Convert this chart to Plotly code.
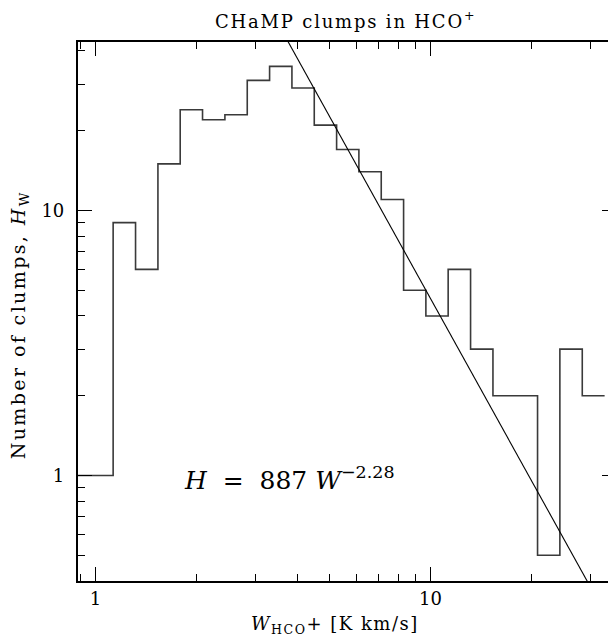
import plotly.graph_objects as go

# ---- data ----
bin_edges = [0.831, 0.969, 1.129, 1.317, 1.536, 1.790, 2.087, 2.434, 2.838, 3.309,
             3.858, 4.498, 5.245, 6.113, 7.128, 8.311, 9.687, 11.29, 13.17, 15.36,
             17.90, 20.87, 24.33, 28.38, 33.09]
counts = [1, 1, 9, 6, 15, 24, 22, 23, 31, 35, 29, 21, 17, 14, 11, 5, 4, 6, 3, 2, 2, 0.5, 3, 2]

fit_amp = 887
fit_index = -2.28
fit_w = [3.0, 40.0]
fit_h = [fit_amp * w ** fit_index for w in fit_w]

x_major = [1, 10]
x_major_text = ["1", "10"]
x_minor = [0.9, 2, 3, 4, 5, 6, 7, 8, 9, 20, 30]
y_major = [1, 10]
y_major_text = ["1", "10"]
y_minor = [0.5, 0.6, 0.7, 0.8, 0.9, 2, 3, 4, 5, 6, 7, 8, 9, 20, 30, 40]

FONT = "DejaVu Serif"

fig = go.Figure()
fig.add_trace(go.Scatter(
    x=bin_edges, y=counts + [counts[-1]], mode="lines",
    line=dict(shape="hv", color="#3a3a3a", width=1.6), showlegend=False,
    hoverinfo="skip"))
fig.add_trace(go.Scatter(
    x=fit_w, y=fit_h, mode="lines",
    line=dict(color="black", width=1.1), showlegend=False, hoverinfo="skip"))
# invisible trace for mirror axes
fig.add_trace(go.Scatter(x=[1], y=[1], xaxis="x2", yaxis="y2", mode="markers",
                         marker=dict(opacity=0), showlegend=False, hoverinfo="skip"))

xr = [-0.0522, 1.5537]
yr = [-0.398, 1.636]

common_x = dict(type="log", range=xr, tickmode="array", tickvals=x_major,
                ticks="inside", ticklen=14, tickwidth=1.3, tickcolor="black",
                showgrid=False, zeroline=False,
                minor=dict(tickmode="array", tickvals=x_minor, ticks="inside",
                           ticklen=7, tickwidth=1.1, tickcolor="black", showgrid=False))
common_y = dict(type="log", range=yr, tickmode="array", tickvals=y_major,
                ticks="inside", ticklen=14, tickwidth=1.3, tickcolor="black",
                showgrid=False, zeroline=False,
                minor=dict(tickmode="array", tickvals=y_minor, ticks="inside",
                           ticklen=7, tickwidth=1.1, tickcolor="black", showgrid=False))

fig.update_layout(
    width=608, height=633,
    margin=dict(l=70, r=0, t=34, b=60, autoexpand=False),
    paper_bgcolor="white", plot_bgcolor="white",
    font=dict(family=FONT, color="black", size=18),
    xaxis=dict(**common_x, ticktext=x_major_text, showline=True, linewidth=2.2,
               linecolor="black", tickfont=dict(family=FONT, size=18)),
    xaxis2=dict(**common_x, overlaying="x", side="top", anchor="y",
                showline=True, linewidth=1.6, linecolor="black",
                showticklabels=False),
    yaxis=dict(**common_y, ticktext=y_major_text, showline=True, linewidth=2.2,
               linecolor="black", tickfont=dict(family=FONT, size=18),
               ticklabelstandoff=8),
    yaxis2=dict(**common_y, overlaying="y", side="right", anchor="x",
                showline=False, showticklabels=False),
    annotations=[
        dict(text="<span style='letter-spacing:1.8px'>CHaMP clumps in HCO<sup>+</sup></span>",
             xref="paper", yref="paper",
             x=0.498, y=1.041, xanchor="center", yanchor="middle", showarrow=False,
             font=dict(family=FONT, size=18)),
        dict(text="<span style='letter-spacing:2.4px'>Number of clumps, <i>H</i><sub>W</sub></span>",
             xref="paper", yref="paper",
             x=-0.108, y=0.476, xanchor="center", yanchor="middle", showarrow=False,
             textangle=-90, font=dict(family=FONT, size=19)),
        dict(text="<span style='letter-spacing:1.5px'><i>W</i><sub>HCO</sub>+ [K km/s]</span>",
             xref="paper", yref="paper",
             x=0.478, y=-0.082, xanchor="center", yanchor="middle", showarrow=False,
             font=dict(family=FONT, size=18)),
        dict(text="<i>H</i>  =  887 <i>W</i><sup>−2.28</sup>", xref="paper", yref="paper",
             x=0.193, y=0.191, xanchor="left", yanchor="middle", showarrow=False,
             font=dict(family=FONT, size=25)),
    ],
)

fig.write_html("out.html")
